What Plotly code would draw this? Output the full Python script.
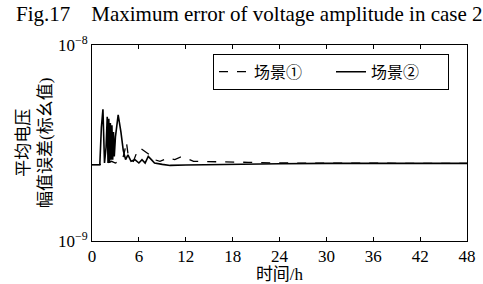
import plotly.graph_objects as go

# Scenario ② (solid)
t_s2 = [0, 1.0, 1.2, 1.4, 1.6, 1.8, 1.95, 2.05, 2.15, 2.25, 2.35, 2.45, 2.55, 2.65, 2.75, 2.85,
        3.0, 3.35, 3.7, 4.0, 4.3, 4.6, 5.0, 5.5, 6.0, 6.4, 6.8, 7.2, 7.6, 8.0, 9.0, 10, 12, 14,
        18, 24, 30, 36, 42, 48]
v_s2 = [2.45, 2.45, 3.8, 4.7, 2.5, 3.0, 4.3, 2.5, 4.2, 2.5, 4.0, 2.6, 3.9, 2.6, 3.6, 2.7,
        3.4, 4.4, 3.6, 2.9, 2.6, 2.75, 2.55, 2.6, 2.5, 2.6, 2.5, 2.7, 2.6, 2.5, 2.46, 2.43, 2.44, 2.45,
        2.46, 2.48, 2.49, 2.49, 2.49, 2.49]

# Scenario ① (dashed)
t_s1 = [0, 1.0, 1.3, 1.6, 2.0, 2.5, 3.0, 3.5, 3.9, 4.2, 4.4, 4.6, 4.9, 5.3, 5.9, 6.3, 6.8, 7.4,
        8.0, 8.7, 9.7, 10.6, 11.3, 11.9, 13, 16, 20, 24, 30, 36, 42, 48]
v_s1 = [2.45, 2.45, 2.5, 2.55, 2.5, 2.55, 2.5, 2.55, 2.6, 2.9, 3.2, 2.8, 2.6, 2.55, 2.95, 2.95, 2.85, 2.75,
        2.6, 2.55, 2.65, 2.6, 2.68, 2.66, 2.55, 2.53, 2.52, 2.5, 2.49, 2.49, 2.49, 2.49]

x_ticks = [0, 6, 12, 18, 24, 30, 36, 42, 48]
y_ticks = [1e-9, 1e-8]
y_ticktext = ["10<sup>−9</sup>", "10<sup>−8</sup>"]

serif = "Liberation Serif, Noto Sans CJK SC, serif"

fig = go.Figure()
fig.add_trace(go.Scatter(x=t_s1, y=[v * 1e-9 for v in v_s1], mode="lines", name="场景①",
                         line=dict(color="black", width=1.3, dash="dash")))
fig.add_trace(go.Scatter(x=t_s2, y=[v * 1e-9 for v in v_s2], mode="lines", name="场景②",
                         line=dict(color="black", width=1.6)))

fig.update_layout(
    width=483, height=284,
    margin=dict(l=92, r=16, t=45, b=43),
    paper_bgcolor="white", plot_bgcolor="white",
    font=dict(family=serif, size=16, color="black"),
    showlegend=True,
    legend=dict(orientation="h", x=0.952, xanchor="right", y=0.955, yanchor="top",
                bordercolor="black", borderwidth=1, bgcolor="white",
                font=dict(size=16, family=serif), entrywidth=72,
                tracegroupgap=0),
    annotations=[
        dict(text="Fig.17    Maximum error of voltage amplitude in case 2", xref="paper", yref="paper",
             x=0.42, y=1.0, yshift=31, xanchor="center", yanchor="middle", showarrow=False,
             font=dict(size=21, family=serif)),
        dict(text="平均电压<br>幅值误差(标幺值)", xref="paper", yref="paper", x=0, y=0.5,
             xshift=-58, xanchor="center", yanchor="middle", textangle=-90, showarrow=False,
             font=dict(size=17, family=serif)),
    ],
)
fig.update_xaxes(range=[0, 48], tickvals=x_ticks, ticks="inside", ticklen=4, tickcolor="black",
                 showline=True, linecolor="black", linewidth=1, mirror="ticks", showgrid=False,
                 zeroline=False, automargin=False,
                 title=dict(text="时间/h", standoff=0, font=dict(size=17)),
                 tickfont=dict(size=17))
fig.update_yaxes(type="log", range=[-9, -8], tickvals=y_ticks, ticktext=y_ticktext, ticks="",
                 showline=True, linecolor="black", linewidth=1, mirror=True, showgrid=False,
                 zeroline=False, automargin=False, tickfont=dict(size=17))

fig.write_html("out.html", config={"displayModeBar": False},
               post_script="document.body.style.margin='0';document.body.style.overflow='hidden';")
